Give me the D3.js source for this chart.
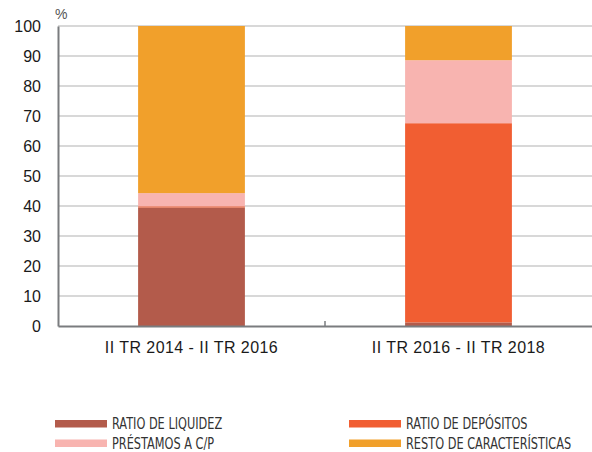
<!DOCTYPE html>
<html>
<head>
<meta charset="utf-8">
<script src="https://cdn.jsdelivr.net/npm/d3@7"></script>
<style>
  body { margin: 0; background: #fff; }
  svg { display: block; }
</style>
</head>
<body>
<script>
// data
var periods = ["II TR 2014 - II TR 2016", "II TR 2016 - II TR 2018"];
var series = ["RATIO DE LIQUIDEZ", "RATIO DE DEPÓSITOS", "PRÉSTAMOS A C/P", "RESTO DE CARACTERÍSTICAS"];
var liquidez   = [39.5, 1.2];
var depositos  = [0.4, 66.4];
var prestamos  = [4.4, 21.0];
var resto      = [55.7, 11.4];
var yTicks = [0, 10, 20, 30, 40, 50, 60, 70, 80, 90, 100];

var colors = ["#b35b4b", "#f15e32", "#f8b4b0", "#f1a02b"];

(function(){

var width = 592, height = 452;
var mLeft = 58, mRight = 592, mTop = 26, mBottom = 326;

var svg = d3.select("body").append("svg")
    .attr("width", width)
    .attr("height", height);

var x = d3.scaleBand()
    .domain(periods)
    .range([mLeft, mRight])
    .paddingInner(0.6)
    .paddingOuter(0.3);

var y = d3.scaleLinear()
    .domain([0, 100])
    .range([mBottom, mTop]);

//gridlines
svg.append("g").selectAll("line")
    .data(yTicks.filter(function(d){ return d > 0; }))
    .enter().append("line")
    .attr("x1", mLeft).attr("x2", mRight)
    .attr("y1", function(d){ return y(d); })
    .attr("y2", function(d){ return y(d); })
    .attr("stroke", "#cbcbcb")
    .attr("stroke-width", 1.3);

//stack the series
var rows = periods.map(function(p, i){
    return {period: p, s0: liquidez[i], s1: depositos[i], s2: prestamos[i], s3: resto[i]};
});
var stack = d3.stack().keys(["s0", "s1", "s2", "s3"]);
var layers = stack(rows);

svg.append("g").selectAll("g")
    .data(layers)
    .enter().append("g")
    .attr("fill", function(d, i){ return colors[i]; })
    .selectAll("rect")
    .data(function(d){ return d; })
    .enter().append("rect")
    .attr("x", function(d){ return x(d.data.period); })
    .attr("width", x.bandwidth())
    .attr("y", function(d){ return y(d[1]); })
    .attr("height", function(d){ return y(d[0]) - y(d[1]); });

//y axis
var yAxis = svg.append("g")
    .attr("transform", "translate(" + mLeft + ",0)")
    .call(d3.axisLeft(y).tickValues(yTicks).tickSize(0).tickPadding(17));
yAxis.select(".domain").attr("stroke", "#7a7c7f").attr("stroke-width", 2);
yAxis.selectAll("text")
    .attr("font-family", "Liberation Sans, Arial, sans-serif")
    .attr("font-size", 16)
    .attr("fill", "#1a1a1a");

//x axis
var xAxis = svg.append("g")
    .attr("transform", "translate(0," + mBottom + ")")
    .call(d3.axisBottom(x).tickSize(0).tickPadding(16));
xAxis.select(".domain").attr("stroke", "#7a7c7f").attr("stroke-width", 2);
xAxis.selectAll("text")
    .attr("font-family", "Liberation Sans, Arial, sans-serif")
    .attr("font-size", 16)
    .attr("letter-spacing", "0.45px")
    .attr("fill", "#1a1a1a");

//separator tick between the periods
svg.append("line")
    .attr("x1", x.step() + mLeft).attr("x2", x.step() + mLeft)
    .attr("y1", mBottom).attr("y2", mBottom - 5)
    .attr("stroke", "#7a7c7f")
    .attr("stroke-width", 1.5);

//unit label
svg.append("text")
    .attr("x", 55).attr("y", 19)
    .attr("font-family", "Liberation Sans, Arial, sans-serif")
    .attr("font-size", 14)
    .attr("fill", "#555")
    .text("%");

//legend
var legendPos = [[55, 420], [349, 420], [55, 439.5], [349, 439.5]];
var legend = svg.append("g").selectAll("g")
    .data([0, 1, 2, 3])
    .enter().append("g")
    .attr("transform", function(d, i){ return "translate(" + legendPos[i][0] + "," + legendPos[i][1] + ")"; });

legend.append("rect")
    .attr("width", 52).attr("height", 7.5)
    .attr("fill", function(d){ return colors[d]; });

legend.append("text")
    .attr("transform", "translate(57,9) scale(0.84,1)")
    .attr("font-family", "Liberation Sans Narrow, DejaVu Sans Condensed, sans-serif")
    .attr("font-size", 15)
    .attr("fill", "#333")
    .text(function(d){ return series[d]; });

})();
</script>
</body>
</html>
